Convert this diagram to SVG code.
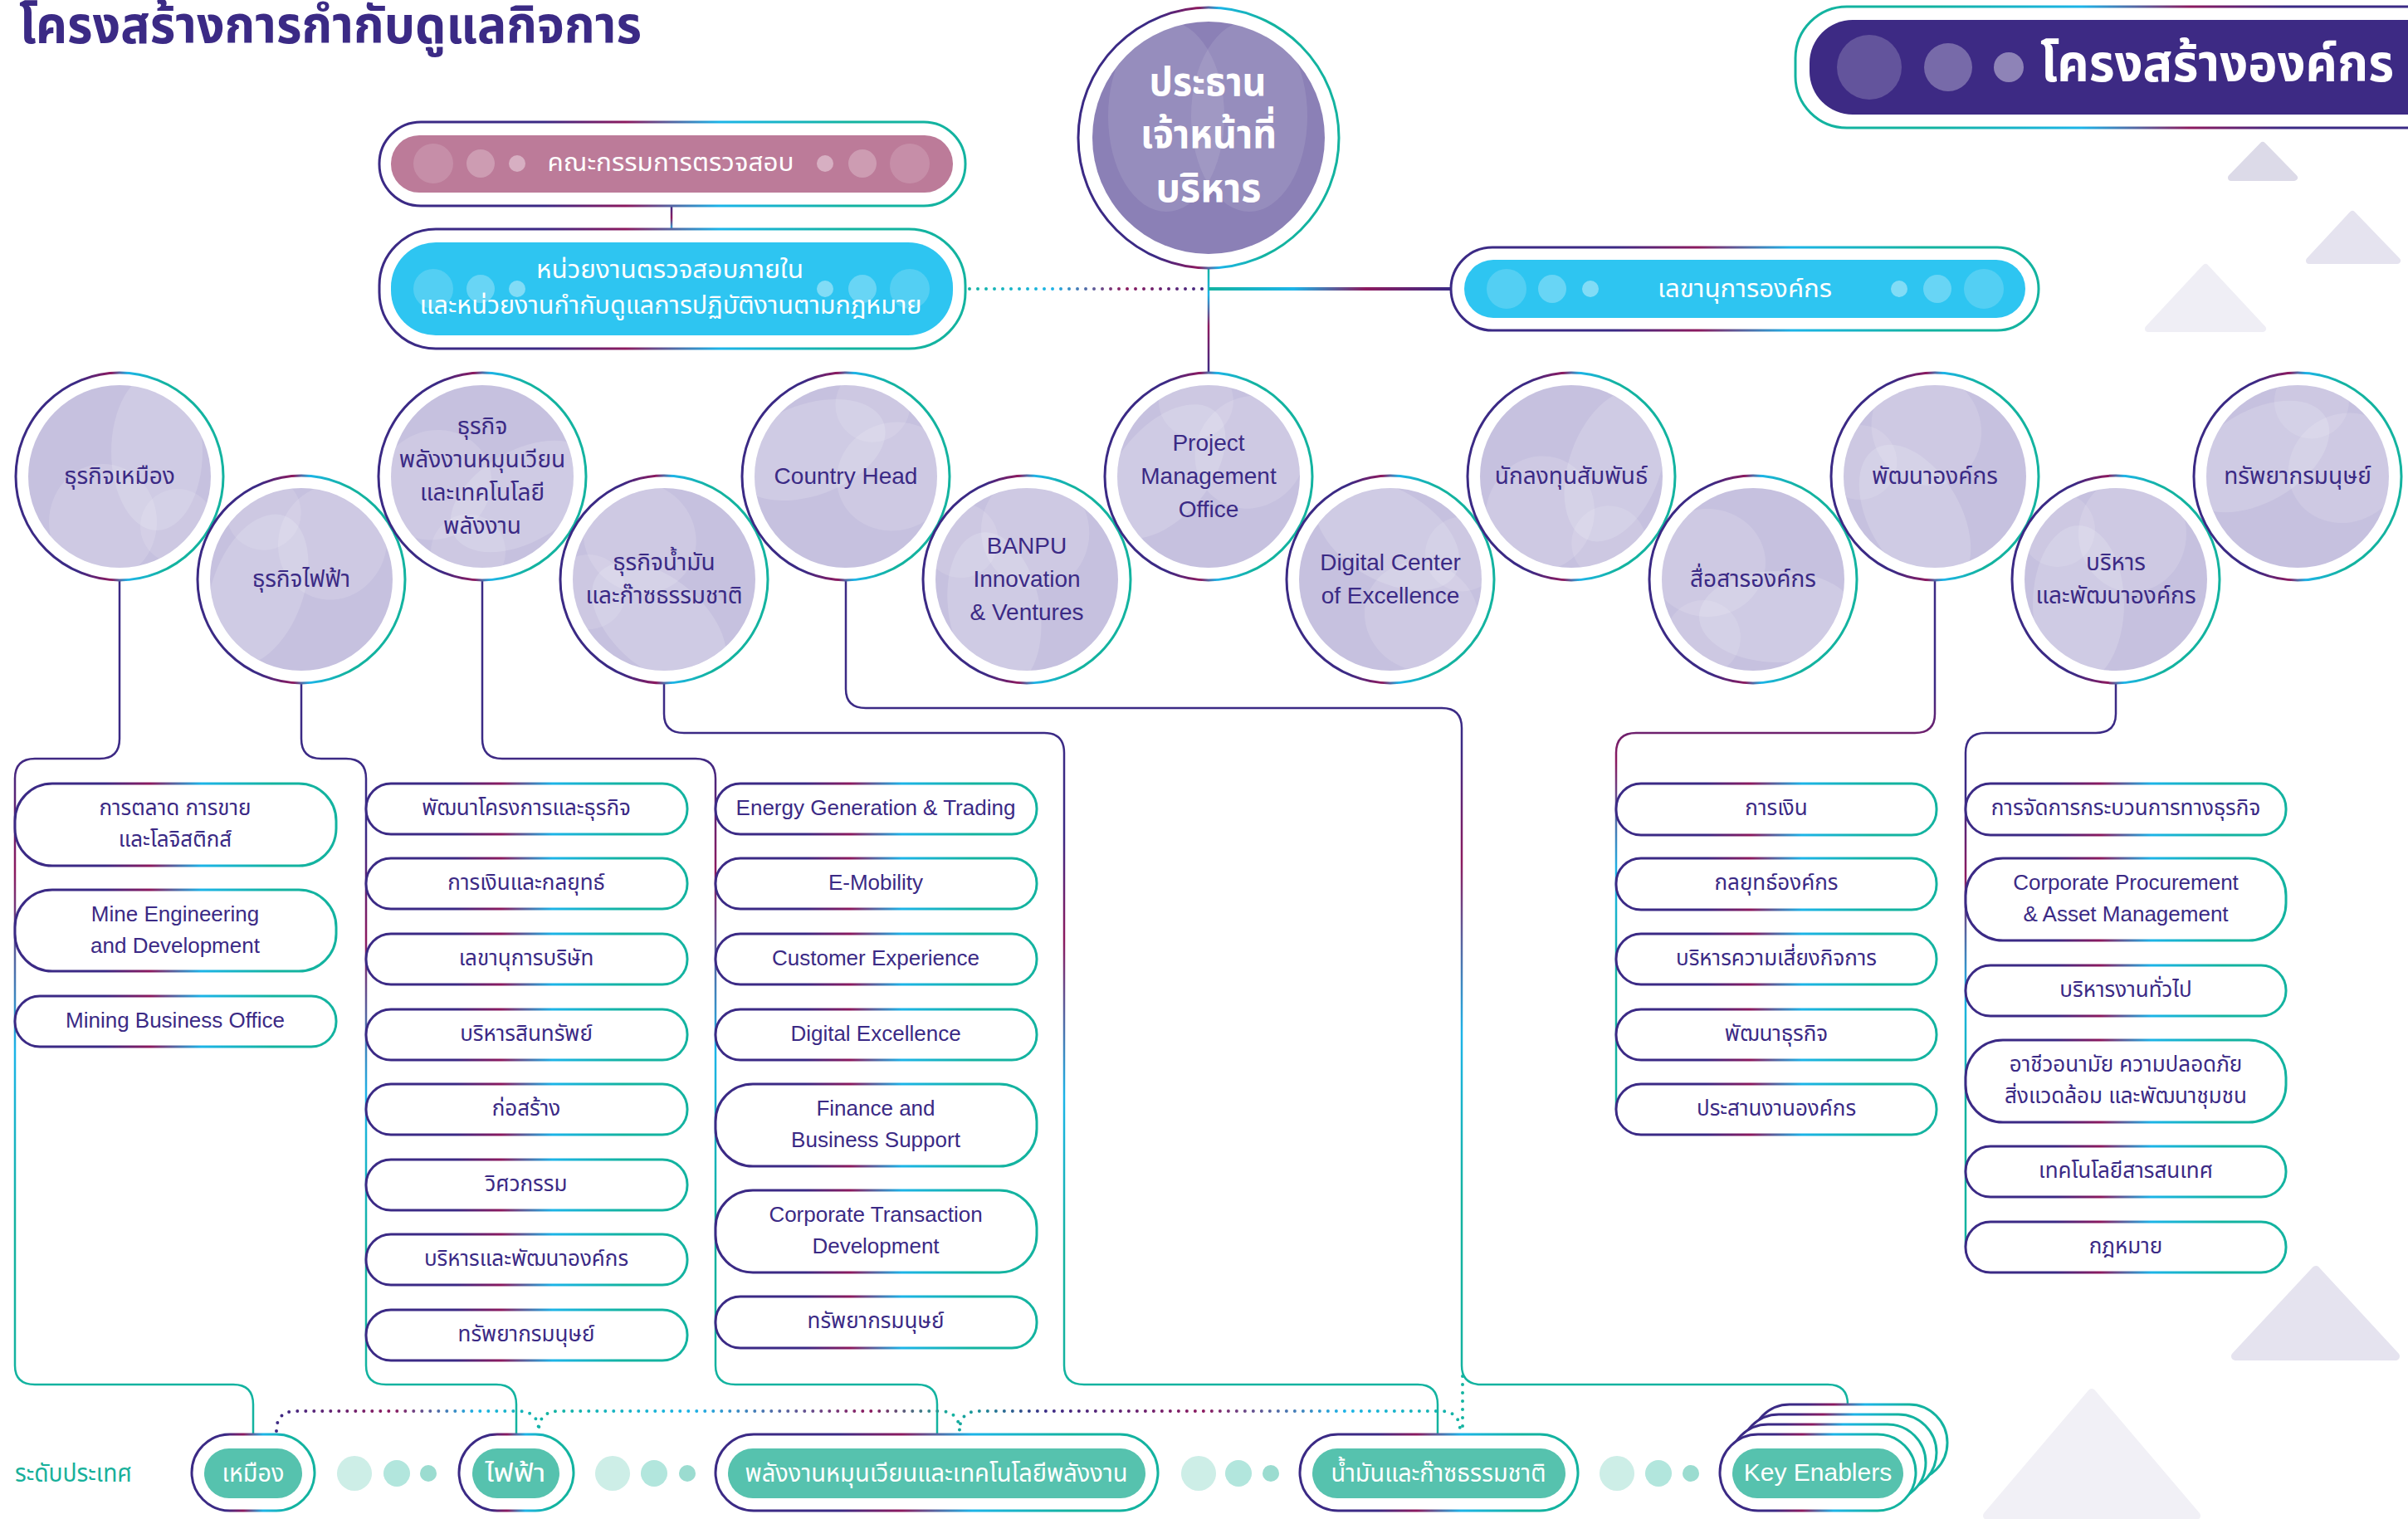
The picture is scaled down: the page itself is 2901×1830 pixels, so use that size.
<svg xmlns="http://www.w3.org/2000/svg" xmlns:xlink="http://www.w3.org/1999/xlink" width="2901" height="1830" viewBox="0 0 2901 1830">
<defs>
  <linearGradient id="gH" x1="0" y1="0" x2="1" y2="0">
    <stop offset="0" stop-color="#3b2a85"/><stop offset="0.28" stop-color="#3b2a85"/>
    <stop offset="0.42" stop-color="#8c1a5f"/><stop offset="0.58" stop-color="#1cb4e8"/>
    <stop offset="0.8" stop-color="#13b3a0"/><stop offset="1" stop-color="#13b3a0"/>
  </linearGradient>
  <linearGradient id="gHr" x1="1" y1="0" x2="0" y2="0">
    <stop offset="0" stop-color="#3b2a85"/><stop offset="0.28" stop-color="#3b2a85"/>
    <stop offset="0.42" stop-color="#8c1a5f"/><stop offset="0.58" stop-color="#1cb4e8"/>
    <stop offset="0.8" stop-color="#13b3a0"/><stop offset="1" stop-color="#13b3a0"/>
  </linearGradient>
  <linearGradient id="gC" x1="0" y1="0" x2="1" y2="0">
    <stop offset="0" stop-color="#3b2a85"/><stop offset="0.3" stop-color="#3b2a85"/>
    <stop offset="0.46" stop-color="#8c1a5f"/><stop offset="0.54" stop-color="#1cb4e8"/>
    <stop offset="0.72" stop-color="#13b3a0"/><stop offset="1" stop-color="#13b3a0"/>
  </linearGradient>
  <linearGradient id="gV" x1="0" y1="0" x2="0" y2="1">
    <stop offset="0" stop-color="#3b2a85"/><stop offset="0.2" stop-color="#3b2a85"/>
    <stop offset="0.34" stop-color="#8c1a5f"/><stop offset="0.55" stop-color="#1cb4e8"/>
    <stop offset="0.75" stop-color="#13b3a0"/><stop offset="1" stop-color="#13b3a0"/>
  </linearGradient>
  <linearGradient id="gPres" gradientUnits="userSpaceOnUse" x1="0" y1="323" x2="0" y2="450">
    <stop offset="0" stop-color="#13b3a0"/><stop offset="0.25" stop-color="#1cb4e8"/>
    <stop offset="0.55" stop-color="#8c1a5f"/><stop offset="1" stop-color="#3b2a85"/>
  </linearGradient>
  <linearGradient id="gAud" gradientUnits="userSpaceOnUse" x1="0" y1="248" x2="0" y2="277">
    <stop offset="0" stop-color="#3b2a85"/><stop offset="0.5" stop-color="#8c1a5f"/><stop offset="1" stop-color="#1cb4e8"/>
  </linearGradient>
  <linearGradient id="gSec" gradientUnits="userSpaceOnUse" x1="1456" y1="0" x2="1748" y2="0">
    <stop offset="0" stop-color="#13b3a0"/><stop offset="0.35" stop-color="#1cb4e8"/>
    <stop offset="0.65" stop-color="#8c1a5f"/><stop offset="1" stop-color="#3b2a85"/>
  </linearGradient>
  <linearGradient id="gDotTop" gradientUnits="userSpaceOnUse" x1="1165" y1="0" x2="1456" y2="0">
    <stop offset="0" stop-color="#13b3a0"/><stop offset="0.35" stop-color="#1cb4e8"/>
    <stop offset="0.65" stop-color="#8c1a5f"/><stop offset="1" stop-color="#3b2a85"/>
  </linearGradient>
  <linearGradient id="gDot" gradientUnits="userSpaceOnUse" x1="330" y1="0" x2="1765" y2="0">
    <stop offset="0" stop-color="#3b2a85"/><stop offset="0.1" stop-color="#8c1a5f"/>
    <stop offset="0.17" stop-color="#1cb4e8"/><stop offset="0.23" stop-color="#13b3a0"/>
    <stop offset="0.35" stop-color="#1cb4e8"/><stop offset="0.5" stop-color="#8c1a5f"/>
    <stop offset="0.57" stop-color="#13b3a0"/><stop offset="0.65" stop-color="#3b2a85"/>
    <stop offset="0.78" stop-color="#8c1a5f"/><stop offset="0.9" stop-color="#1cb4e8"/>
    <stop offset="1" stop-color="#13b3a0"/>
  </linearGradient>
  <clipPath id="clipIn"><circle r="110"/></clipPath>
  <clipPath id="clipPres"><circle cx="1456" cy="166" r="140"/></clipPath>
  <g id="bal">
    <circle r="125" fill="none" stroke="url(#gC)" stroke-width="3"/>
    <circle r="110" fill="#c6c1df"/>
  </g>
  <g id="deco" clip-path="url(#clipIn)" fill="#ffffff">
    <ellipse cx="45" cy="-30" rx="55" ry="95" fill-opacity="0.16"/>
    <ellipse cx="-20" cy="55" rx="65" ry="70" fill-opacity="0.14"/>
    <circle cx="70" cy="60" r="45" fill-opacity="0.12"/>
  </g>
  <style>
    .t { font-family: "Liberation Sans", "Noto Sans", "Noto Sans Thai", sans-serif; }
    .pill { fill: #ffffff; stroke: url(#gH); stroke-width: 3; }
    .pt { font-family: "Liberation Sans", "Noto Sans", "Noto Sans Thai", sans-serif; font-size: 26px; fill: #3b2a85; text-anchor: middle; }
    .bt { font-family: "Liberation Sans", "Noto Sans", "Noto Sans Thai", sans-serif; font-size: 28px; fill: #3b2a85; text-anchor: middle; }
    .wt { font-family: "Liberation Sans", "Noto Sans", "Noto Sans Thai", sans-serif; fill: #ffffff; text-anchor: middle; }
    .conn { fill: none; stroke: url(#gV); stroke-width: 2.5; }
    .dot { fill: none; stroke-width: 4; stroke-linecap: round; stroke-dasharray: 0 10; }
    .outer { fill: #ffffff; stroke: url(#gH); stroke-width: 3; }
    .bpill { fill: #56c2ae; }
  </style>
</defs>

<rect width="2901" height="1830" fill="#ffffff"/>

<!-- decorative triangles -->
<g id="decor" stroke-linejoin="round">
  <path d="M2726,175 L2764,214 L2688,214 Z" fill="#dcdae8" stroke="#dcdae8" stroke-width="8"/>
  <path d="M2834,258 L2888,314 L2782,314 Z" fill="#e5e3ef" stroke="#e5e3ef" stroke-width="8"/>
  <path d="M2657,322 L2726,396 L2588,396 Z" fill="#efeef5" stroke="#efeef5" stroke-width="8"/>
  <path d="M2790,1530 L2886,1634 L2693,1634 Z" fill="#e5e3ef" stroke="#e5e3ef" stroke-width="10"/>
  <path d="M2520,1678 L2646,1826 L2394,1826 Z" fill="#f1f0f6" stroke="#f1f0f6" stroke-width="10"/>
</g>

<!-- title -->
<text class="t" x="23" y="52" font-size="62" font-weight="bold" fill="#3b2a85" textLength="750" lengthAdjust="spacingAndGlyphs">โครงสร้างการกำกับดูแลกิจการ</text>

<!-- top right title pill -->
<g id="org-title">
  <rect x="2163" y="8" width="820" height="146" rx="62" fill="#ffffff" stroke="url(#gHr)" stroke-width="3"/>
  <rect x="2180" y="24" width="800" height="114" rx="52" fill="#3d2a84"/>
  <circle cx="2252" cy="81" r="39" fill="#ffffff" fill-opacity="0.2"/>
  <circle cx="2347" cy="81" r="29" fill="#ffffff" fill-opacity="0.3"/>
  <circle cx="2420" cy="81" r="18" fill="#ffffff" fill-opacity="0.42"/>
  <text class="t" x="2458" y="98" font-size="62" font-weight="bold" fill="#ffffff" textLength="426" lengthAdjust="spacingAndGlyphs">โครงสร้างองค์กร</text>
</g>

<!-- connectors -->
<g id="connectors">
  <path d="M1456,323 V448" fill="none" stroke="url(#gPres)" stroke-width="2.5"/>
  <path d="M809,248 V277" fill="none" stroke="url(#gAud)" stroke-width="2.5"/>
  <path d="M1456,348 H1748" fill="none" stroke="url(#gSec)" stroke-width="4"/>
  <path d="M1168,348 H1452" class="dot" stroke="url(#gDotTop)" stroke-dasharray="0 9"/>
  <path class="conn" d="M144,700 V890 Q144,914 120,914 H42 Q18,914 18,938 V1645 Q18,1668 42,1668 H281 Q305,1668 305,1692 V1728"/>
  <path class="conn" d="M363,824 V890 Q363,914 387,914 H417 Q441,914 441,938 V1645 Q441,1668 465,1668 H598 Q622,1668 622,1692 V1728"/>
  <path class="conn" d="M581,700 V890 Q581,914 605,914 H838 Q862,914 862,938 V1645 Q862,1668 886,1668 H1105 Q1129,1668 1129,1692 V1728"/>
  <path class="conn" d="M800,824 V860 Q800,883 824,883 H1258 Q1282,883 1282,907 V1645 Q1282,1668 1306,1668 H1708 Q1732,1668 1732,1692 V1728"/>
  <path class="conn" d="M1019,700 V830 Q1019,853 1043,853 H1737 Q1761,853 1761,877 V1645 Q1761,1668 1785,1668 H2202 Q2226,1668 2226,1692"/>
  <path class="conn" d="M2331,700 V860 Q2331,883 2307,883 H1971 Q1947,883 1947,907 V1337"/>
  <path class="conn" d="M2549,824 V860 Q2549,883 2525,883 H2392 Q2368,883 2368,907 V1502"/>
  <path class="dot" stroke="url(#gDot)" d="M333,1724 Q333,1700 357,1700 H624 Q649,1700 649,1724 Q649,1700 674,1700 H1132 Q1156,1700 1156,1724 Q1156,1700 1180,1700 H1735 Q1759,1700 1759,1724"/>
  <path class="dot" stroke="#13b3a0" d="M1762,1658 V1724"/>
</g>

<!-- audit committee -->
<g id="audit-committee">
  <rect class="outer" x="457" y="147" width="706" height="101" rx="50"/>
  <rect x="471" y="163" width="677" height="69" rx="34" fill="#bc7b99"/>
  <g fill="#ffffff">
    <circle cx="522" cy="197" r="24" fill-opacity="0.15"/><circle cx="579" cy="197" r="17" fill-opacity="0.25"/><circle cx="623" cy="197" r="10" fill-opacity="0.4"/>
    <circle cx="994" cy="197" r="10" fill-opacity="0.4"/><circle cx="1039" cy="197" r="17" fill-opacity="0.25"/><circle cx="1096" cy="197" r="24" fill-opacity="0.15"/>
  </g>
  <text class="wt" x="808" y="206" font-size="30" textLength="297" lengthAdjust="spacingAndGlyphs">คณะกรรมการตรวจสอบ</text>
</g>

<!-- internal audit -->
<g id="internal-audit">
  <rect class="outer" x="457" y="276" width="706" height="144" rx="68"/>
  <rect x="471" y="292" width="677" height="112" rx="54" fill="#2ec5f1"/>
  <g fill="#ffffff">
    <circle cx="522" cy="348" r="24" fill-opacity="0.18"/><circle cx="579" cy="348" r="17" fill-opacity="0.28"/><circle cx="623" cy="348" r="10" fill-opacity="0.4"/>
    <circle cx="994" cy="348" r="10" fill-opacity="0.4"/><circle cx="1039" cy="348" r="17" fill-opacity="0.28"/><circle cx="1096" cy="348" r="24" fill-opacity="0.18"/>
  </g>
  <text class="wt" x="807" y="335" font-size="30" textLength="322" lengthAdjust="spacingAndGlyphs">หน่วยงานตรวจสอบภายใน</text>
  <text class="wt" x="808" y="378" font-size="30" textLength="605" lengthAdjust="spacingAndGlyphs">และหน่วยงานกำกับดูแลการปฏิบัติงานตามกฎหมาย</text>
</g>

<!-- corporate secretary -->
<g id="corporate-secretary">
  <rect class="outer" x="1748" y="298" width="708" height="100" rx="50"/>
  <rect x="1764" y="313" width="676" height="70" rx="35" fill="#2ec5f1"/>
  <g fill="#ffffff">
    <circle cx="1815" cy="348" r="24" fill-opacity="0.18"/><circle cx="1870" cy="348" r="17" fill-opacity="0.28"/><circle cx="1916" cy="348" r="10" fill-opacity="0.4"/>
    <circle cx="2288" cy="348" r="10" fill-opacity="0.4"/><circle cx="2334" cy="348" r="17" fill-opacity="0.28"/><circle cx="2390" cy="348" r="24" fill-opacity="0.18"/>
  </g>
  <text class="wt" x="2102" y="358" font-size="30" textLength="210" lengthAdjust="spacingAndGlyphs">เลขานุการองค์กร</text>
</g>

<!-- CEO -->
<g id="ceo">
  <circle cx="1456" cy="166" r="157" fill="#ffffff" stroke="url(#gC)" stroke-width="3"/>
  <circle cx="1456" cy="166" r="140" fill="#8b80b6"/>
  <g clip-path="url(#clipPres)" fill="#ffffff">
    <ellipse cx="1405" cy="140" rx="70" ry="115" fill-opacity="0.1"/>
    <ellipse cx="1505" cy="140" rx="70" ry="115" fill-opacity="0.1"/>
  </g>
  <text class="wt" x="1455" y="115" font-size="48" font-weight="bold" textLength="141" lengthAdjust="spacingAndGlyphs">ประธาน</text>
  <text class="wt" x="1456" y="178" font-size="48" font-weight="bold" textLength="164" lengthAdjust="spacingAndGlyphs">เจ้าหน้าที่</text>
  <text class="wt" x="1456" y="243" font-size="48" font-weight="bold" textLength="127" lengthAdjust="spacingAndGlyphs">บริหาร</text>
</g>

<!-- balloons -->
<g id="b-mining"><use href="#bal" x="144" y="574"/><use href="#deco" transform="translate(144,574)"/>
  <text class="bt" x="144" y="583">ธุรกิจเหมือง</text></g>
<g id="b-power"><use href="#bal" x="363" y="698"/><use href="#deco" transform="translate(363,698) rotate(200)"/>
  <text class="bt" x="363" y="707">ธุรกิจไฟฟ้า</text></g>
<g id="b-renew"><use href="#bal" x="581" y="574"/><use href="#deco" transform="translate(581,574) rotate(60)"/>
  <text class="bt" x="581" y="523">ธุรกิจ</text><text class="bt" x="581" y="563">พลังงานหมุนเวียน</text><text class="bt" x="581" y="603">และเทคโนโลยี</text><text class="bt" x="581" y="643">พลังงาน</text></g>
<g id="b-oilgas"><use href="#bal" x="800" y="698"/><use href="#deco" transform="translate(800,698) rotate(130)"/>
  <text class="bt" x="800" y="687">ธุรกิจน้ำมัน</text><text class="bt" x="800" y="727">และก๊าซธรรมชาติ</text></g>
<g id="b-country"><use href="#bal" x="1019" y="574"/><use href="#deco" transform="translate(1019,574) rotate(250)"/>
  <text class="bt" x="1019" y="583">Country Head</text></g>
<g id="b-banpu"><use href="#bal" x="1237" y="698"/><use href="#deco" transform="translate(1237,698) rotate(170)"/>
  <text class="bt" x="1237" y="667">BANPU</text><text class="bt" x="1237" y="707">Innovation</text><text class="bt" x="1237" y="747">&amp; Ventures</text></g>
<g id="b-pmo"><use href="#bal" x="1456" y="574"/><use href="#deco" transform="translate(1456,574) rotate(220)"/>
  <text class="bt" x="1456" y="543">Project</text><text class="bt" x="1456" y="583">Management</text><text class="bt" x="1456" y="623">Office</text></g>
<g id="b-digital"><use href="#bal" x="1675" y="698"/><use href="#deco" transform="translate(1675,698) rotate(300)"/>
  <text class="bt" x="1675" y="687">Digital Center</text><text class="bt" x="1675" y="727">of Excellence</text></g>
<g id="b-ir"><use href="#bal" x="1893" y="574"/><use href="#deco" transform="translate(1893,574) rotate(20)"/>
  <text class="bt" x="1893" y="583">นักลงทุนสัมพันธ์</text></g>
<g id="b-comm"><use href="#bal" x="2112" y="698"/><use href="#deco" transform="translate(2112,698) rotate(90)"/>
  <text class="bt" x="2112" y="707">สื่อสารองค์กร</text></g>
<g id="b-orgdev"><use href="#bal" x="2331" y="574"/><use href="#deco" transform="translate(2331,574) rotate(150)"/>
  <text class="bt" x="2331" y="583">พัฒนาองค์กร</text></g>
<g id="b-admin"><use href="#bal" x="2549" y="698"/><use href="#deco" transform="translate(2549,698) rotate(180)"/>
  <text class="bt" x="2549" y="687">บริหาร</text><text class="bt" x="2549" y="727">และพัฒนาองค์กร</text></g>
<g id="b-hr"><use href="#bal" x="2768" y="574"/><use href="#deco" transform="translate(2768,574) rotate(240)"/>
  <text class="bt" x="2768" y="583">ทรัพยากรมนุษย์</text></g>

<!-- column 1 -->
<g id="c1-1"><rect class="pill" x="18" y="944" width="387" height="99" rx="45"/><text class="pt" x="211" y="982">การตลาด การขาย</text><text class="pt" x="211" y="1020">และโลจิสติกส์</text></g>
<g id="c1-2"><rect class="pill" x="18" y="1072" width="387" height="98" rx="45"/><text class="pt" x="211" y="1110">Mine Engineering</text><text class="pt" x="211" y="1148">and Development</text></g>
<g id="c1-3"><rect class="pill" x="18" y="1200" width="387" height="61" rx="30"/><text class="pt" x="211" y="1238">Mining Business Office</text></g>

<!-- column 2 -->
<g id="c2-1"><rect class="pill" x="441" y="944" width="387" height="61" rx="30"/><text class="pt" x="634" y="982">พัฒนาโครงการและธุรกิจ</text></g>
<g id="c2-2"><rect class="pill" x="441" y="1034" width="387" height="61" rx="30"/><text class="pt" x="634" y="1072">การเงินและกลยุทธ์</text></g>
<g id="c2-3"><rect class="pill" x="441" y="1125" width="387" height="61" rx="30"/><text class="pt" x="634" y="1163">เลขานุการบริษัท</text></g>
<g id="c2-4"><rect class="pill" x="441" y="1216" width="387" height="61" rx="30"/><text class="pt" x="634" y="1254">บริหารสินทรัพย์</text></g>
<g id="c2-5"><rect class="pill" x="441" y="1306" width="387" height="61" rx="30"/><text class="pt" x="634" y="1344">ก่อสร้าง</text></g>
<g id="c2-6"><rect class="pill" x="441" y="1397" width="387" height="61" rx="30"/><text class="pt" x="634" y="1435">วิศวกรรม</text></g>
<g id="c2-7"><rect class="pill" x="441" y="1487" width="387" height="61" rx="30"/><text class="pt" x="634" y="1525">บริหารและพัฒนาองค์กร</text></g>
<g id="c2-8"><rect class="pill" x="441" y="1578" width="387" height="61" rx="30"/><text class="pt" x="634" y="1616">ทรัพยากรมนุษย์</text></g>

<!-- column 3 -->
<g id="c3-1"><rect class="pill" x="862" y="944" width="387" height="61" rx="30"/><text class="pt" x="1055" y="982">Energy Generation &amp; Trading</text></g>
<g id="c3-2"><rect class="pill" x="862" y="1034" width="387" height="61" rx="30"/><text class="pt" x="1055" y="1072">E-Mobility</text></g>
<g id="c3-3"><rect class="pill" x="862" y="1125" width="387" height="61" rx="30"/><text class="pt" x="1055" y="1163">Customer Experience</text></g>
<g id="c3-4"><rect class="pill" x="862" y="1216" width="387" height="61" rx="30"/><text class="pt" x="1055" y="1254">Digital Excellence</text></g>
<g id="c3-5"><rect class="pill" x="862" y="1306" width="387" height="99" rx="45"/><text class="pt" x="1055" y="1344">Finance and</text><text class="pt" x="1055" y="1382">Business Support</text></g>
<g id="c3-6"><rect class="pill" x="862" y="1434" width="387" height="99" rx="45"/><text class="pt" x="1055" y="1472">Corporate Transaction</text><text class="pt" x="1055" y="1510">Development</text></g>
<g id="c3-7"><rect class="pill" x="862" y="1562" width="387" height="62" rx="30"/><text class="pt" x="1055" y="1600">ทรัพยากรมนุษย์</text></g>

<!-- column 4 -->
<g id="c4-1"><rect class="pill" x="1947" y="944" width="386" height="62" rx="30"/><text class="pt" x="2140" y="982">การเงิน</text></g>
<g id="c4-2"><rect class="pill" x="1947" y="1034" width="386" height="62" rx="30"/><text class="pt" x="2140" y="1072">กลยุทธ์องค์กร</text></g>
<g id="c4-3"><rect class="pill" x="1947" y="1125" width="386" height="61" rx="30"/><text class="pt" x="2140" y="1163">บริหารความเสี่ยงกิจการ</text></g>
<g id="c4-4"><rect class="pill" x="1947" y="1216" width="386" height="61" rx="30"/><text class="pt" x="2140" y="1254">พัฒนาธุรกิจ</text></g>
<g id="c4-5"><rect class="pill" x="1947" y="1306" width="386" height="61" rx="30"/><text class="pt" x="2140" y="1344">ประสานงานองค์กร</text></g>

<!-- column 5 -->
<g id="c5-1"><rect class="pill" x="2368" y="944" width="386" height="62" rx="30"/><text class="pt" x="2561" y="982">การจัดการกระบวนการทางธุรกิจ</text></g>
<g id="c5-2"><rect class="pill" x="2368" y="1034" width="386" height="99" rx="45"/><text class="pt" x="2561" y="1072">Corporate Procurement</text><text class="pt" x="2561" y="1110">&amp; Asset Management</text></g>
<g id="c5-3"><rect class="pill" x="2368" y="1163" width="386" height="61" rx="30"/><text class="pt" x="2561" y="1201">บริหารงานทั่วไป</text></g>
<g id="c5-4"><rect class="pill" x="2368" y="1253" width="386" height="99" rx="45"/><text class="pt" x="2561" y="1291">อาชีวอนามัย ความปลอดภัย</text><text class="pt" x="2561" y="1329">สิ่งแวดล้อม และพัฒนาชุมชน</text></g>
<g id="c5-5"><rect class="pill" x="2368" y="1381" width="386" height="61" rx="30"/><text class="pt" x="2561" y="1419">เทคโนโลยีสารสนเทศ</text></g>
<g id="c5-6"><rect class="pill" x="2368" y="1472" width="386" height="61" rx="30"/><text class="pt" x="2561" y="1510">กฎหมาย</text></g>

<!-- country level row -->
<text class="t" x="18" y="1785" font-size="30" fill="#17b09a" textLength="141" lengthAdjust="spacingAndGlyphs">ระดับประเทศ</text>
<g id="dots-row">
  <circle cx="427" cy="1775" r="21" fill="#cdeee7"/><circle cx="478" cy="1775" r="16" fill="#b2e6dd"/><circle cx="516" cy="1775" r="10" fill="#9bdcd0"/>
  <circle cx="738" cy="1775" r="21" fill="#cdeee7"/><circle cx="788" cy="1775" r="16" fill="#b2e6dd"/><circle cx="828" cy="1775" r="10" fill="#9bdcd0"/>
  <circle cx="1444" cy="1775" r="21" fill="#cdeee7"/><circle cx="1492" cy="1775" r="16" fill="#b2e6dd"/><circle cx="1531" cy="1775" r="10" fill="#9bdcd0"/>
  <circle cx="1948" cy="1775" r="21" fill="#cdeee7"/><circle cx="1998" cy="1775" r="16" fill="#b2e6dd"/><circle cx="2037" cy="1775" r="10" fill="#9bdcd0"/>
</g>
<g id="k-mining"><rect class="outer" x="231" y="1728" width="148" height="92" rx="46"/><rect class="bpill" x="246" y="1745" width="118" height="60" rx="30"/>
  <text class="wt" x="305" y="1785" font-size="30" textLength="75" lengthAdjust="spacingAndGlyphs">เหมือง</text></g>
<g id="k-power"><rect class="outer" x="553" y="1728" width="138" height="92" rx="46"/><rect class="bpill" x="569" y="1745" width="105" height="60" rx="30"/>
  <text class="wt" x="621" y="1785" font-size="30" textLength="73" lengthAdjust="spacingAndGlyphs">ไฟฟ้า</text></g>
<g id="k-renew"><rect class="outer" x="862" y="1728" width="533" height="92" rx="46"/><rect class="bpill" x="877" y="1745" width="503" height="60" rx="30"/>
  <text class="wt" x="1128" y="1785" font-size="30" textLength="461" lengthAdjust="spacingAndGlyphs">พลังงานหมุนเวียนและเทคโนโลยีพลังงาน</text></g>
<g id="k-oilgas"><rect class="outer" x="1566" y="1728" width="335" height="92" rx="46"/><rect class="bpill" x="1581" y="1745" width="305" height="60" rx="30"/>
  <text class="wt" x="1733" y="1785" font-size="30" textLength="259" lengthAdjust="spacingAndGlyphs">น้ำมันและก๊าซธรรมชาติ</text></g>
<g id="k-enablers">
  <rect class="outer" x="2110" y="1692" width="236" height="92" rx="46"/>
  <rect class="outer" x="2097" y="1704" width="236" height="92" rx="46"/>
  <rect class="outer" x="2084" y="1716" width="236" height="92" rx="46"/>
  <rect class="outer" x="2072" y="1728" width="236" height="92" rx="46"/>
  <rect class="bpill" x="2087" y="1745" width="206" height="60" rx="30"/>
  <text class="wt" x="2190" y="1784" font-size="30">Key Enablers</text></g>
</svg>
